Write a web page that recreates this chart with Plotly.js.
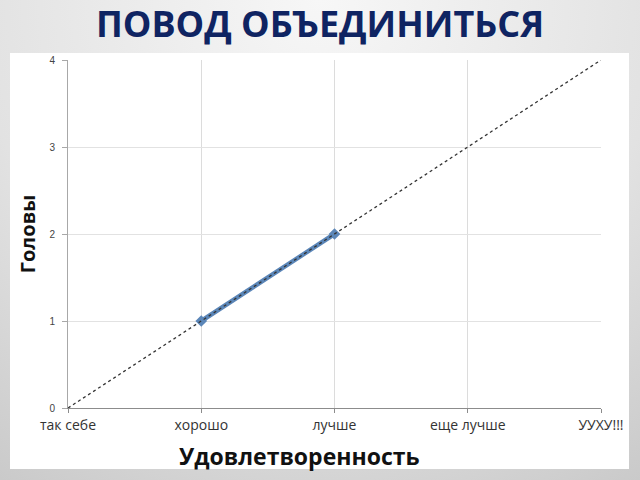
<!DOCTYPE html>
<html>
<head>
<meta charset="utf-8">
<script src="https://cdn.plot.ly/plotly-3.0.1.min.js"></script>
<style>
  html, body { margin: 0; padding: 0; }
  body {
    width: 640px; height: 480px; overflow: hidden; position: relative;
    background: radial-gradient(ellipse 90% 120% at 50% 0%, #f7f7f7 0%, #e2e2e2 60%, #cacaca 100%);
  }
  #panel { position: absolute; left: 10px; top: 53px; width: 619px; height: 416px; background: #fff; }
  #graph { position: absolute; left: 0; top: 0; width: 640px; height: 480px; }
</style>
</head>
<body>
<div id="panel"></div>
<div id="graph"></div>
<script>
// categories on the x axis
const levels = ["так себе", "хорошо", "лучше", "еще лучше", "УУХУ!!!"];
// dashed trend: heads per level
const trendHeads = [0, 1, 2, 3, 4];
// highlighted segment
const pairLevels = ["хорошо", "лучше"];
const pairHeads = [1, 2];

const pair = {
  type: "scatter",
  mode: "lines+markers",
  x: pairLevels,
  y: pairHeads,
  line: { color: "#5b86b8", width: 4.5 },
  marker: { symbol: "diamond", size: 9, color: "#5b86b8" },
  hoverinfo: "skip",
};

const trend = {
  type: "scatter",
  mode: "lines",
  x: levels,
  y: trendHeads,
  line: { color: "#333333", width: 1.3, dash: "3px,3px" },
  hoverinfo: "skip",
};

const layout = {
  width: 640,
  height: 480,
  paper_bgcolor: "rgba(0,0,0,0)",
  plot_bgcolor: "rgba(0,0,0,0)",
  showlegend: false,
  margin: { l: 68, r: 39, t: 60, b: 72, pad: 0 },
  title: {
    text: "<b>ПОВОД ОБЪЕДИНИТЬСЯ</b>",
    font: { family: "Open Sans, sans-serif", size: 36, color: "#0f2462" },
    x: 0.5,
    xref: "container",
    y: 1 - 24 / 480,
    yref: "container",
    yanchor: "middle",
  },
  xaxis: {
    type: "category",
    categoryorder: "array",
    categoryarray: levels,
    range: [0, 4],
    showgrid: true,
    gridcolor: "#dcdcdc",
    showline: true,
    linecolor: "#8c8c8c",
    ticks: "outside",
    ticklen: 4,
    tickcolor: "#8c8c8c",
    tickfont: { family: "Open Sans, sans-serif", size: 14, color: "#333" },
  },
  yaxis: {
    range: [0, 4],
    dtick: 1,
    showgrid: true,
    gridcolor: "#e2e2e2",
    zeroline: false,
    showline: true,
    linecolor: "#a8a8a8",
    ticks: "outside",
    ticklen: 5,
    tickcolor: "#a8a8a8",
    ticklabelstandoff: 5,
    tickfont: { family: "Liberation Sans, Arial, sans-serif", size: 10, color: "#444" },
    title: {
      text: "<b>Головы</b>",
      font: { family: "Open Sans, sans-serif", size: 20, color: "#111" },
      standoff: 8,
    },
  },
  annotations: [
    {
      text: "<b>Удовлетворенность</b>",
      xref: "paper",
      yref: "paper",
      x: 0.435,
      y: -0.138,
      xanchor: "center",
      yanchor: "middle",
      showarrow: false,
      font: { family: "Open Sans, sans-serif", size: 23, color: "#111" },
    },
  ],
};

Plotly.newPlot("graph", [pair, trend], layout, { displayModeBar: false, staticPlot: true });
</script>
</body>
</html>
